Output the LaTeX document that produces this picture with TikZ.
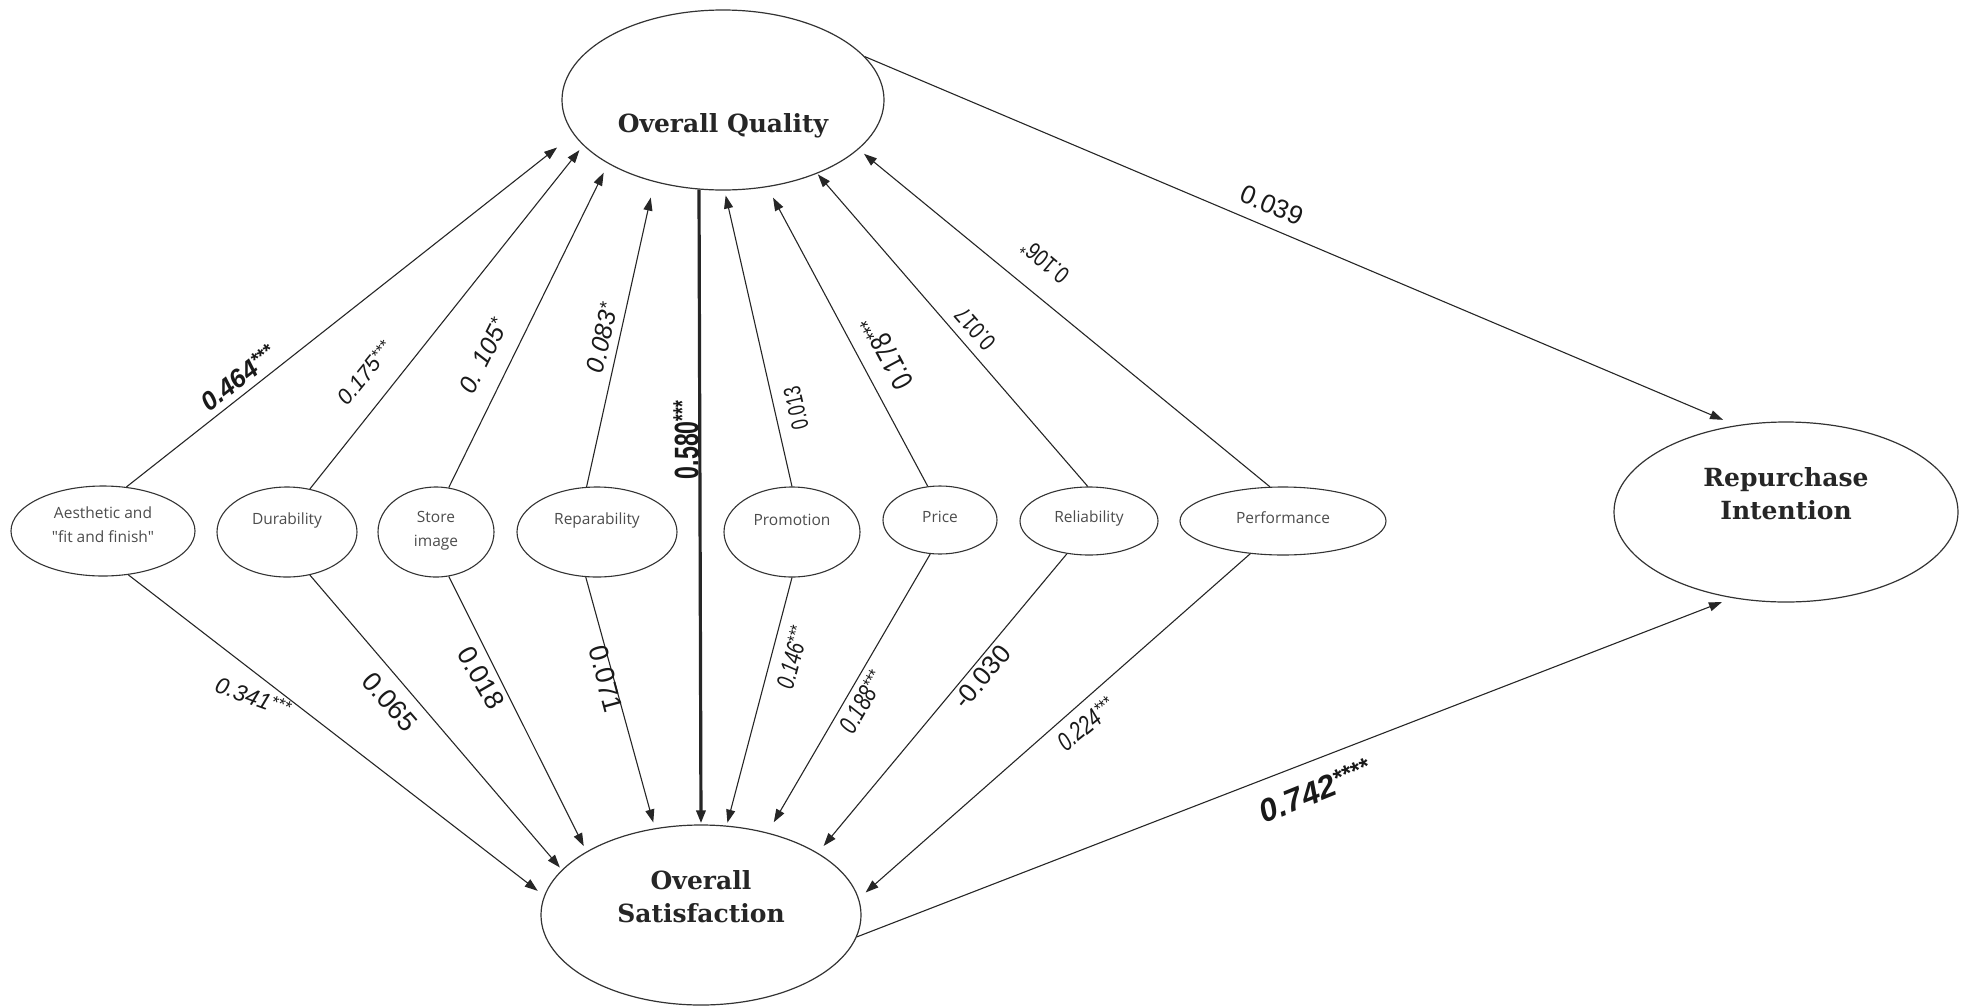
\documentclass[tikz,border=0pt]{standalone}
\usepackage{fontspec}
\setmainfont{DejaVu Serif}
\newfontfamily\coeffont{Liberation Sans}
\newfontfamily\facfont{Open Sans}
\usetikzlibrary{arrows.meta,shapes.geometric}

% significance stars, set small and raised
\newcommand\sig[1]{\raisebox{0.22em}{\scalebox{0.75}{#1}}}
% narrow setting for the condensed coefficients
\newcommand\narrow[2][0.75]{\scalebox{#1}[1]{#2}}

\begin{document}
\begin{tikzpicture}[x=1pt,y=-1pt,
  construct/.style={ellipse, draw=black!80, line width=1.2pt, inner sep=0pt},
  factor/.style={ellipse, draw=black!80, line width=1.1pt, inner sep=0pt},
  bigtext/.style={font=\fontsize{25}{33}\selectfont\bfseries, text=black!85, align=center, inner sep=0pt},
  factext/.style={font=\facfont\fontsize{15.5}{24}\selectfont, text=black!70, align=center, inner sep=0pt},
  link/.style={draw=black!85, line width=1.1pt, -{Triangle[length=13pt,width=9pt]}},
  coef/.style={font=\coeffont\fontsize{26}{30}\selectfont, text=black!90, inner sep=0pt},
]
\useasboundingbox (0,0) rectangle (1966,1007);

% ---- endogenous constructs
\node[construct, minimum width=322pt, minimum height=180pt] (oq) at (723,100) {};
\node[bigtext] (oqtext) at ([yshift=-26pt]oq.center) {Overall Quality};

\node[construct, minimum width=320pt, minimum height=180pt] (os) at (701,915) {};
\node[bigtext] (ostext) at ([yshift=18pt]os.center) {Overall\\Satisfaction};

\node[construct, minimum width=344pt, minimum height=180pt] (ri) at (1786,512) {};
\node[bigtext] (ritext) at ([yshift=18pt]ri.center) {Repurchase\\Intention};

% ---- quality attributes
\node[factor, minimum width=184pt, minimum height=90pt] (aes) at (103,531) {};
\node[factext] (aestext) at ([yshift=6pt]aes.center) {Aesthetic and\\\textquotedbl fit and finish\textquotedbl};

\node[factor, minimum width=140pt, minimum height=90pt] (dur) at (287,532) {};
\node[factext] (durtext) at ([yshift=12pt]dur.center) {Durability};

\node[factor, minimum width=116pt, minimum height=90pt] (sto) at (436,532) {};
\node[factext] (stotext) at ([yshift=1pt]sto.center) {Store\\image};

\node[factor, minimum width=160pt, minimum height=90pt] (rep) at (597,532) {};
\node[factext] (reptext) at ([yshift=12pt]rep.center) {Reparability};

\node[factor, minimum width=136pt, minimum height=90pt] (pro) at (792,532) {};
\node[factext] (protext) at ([yshift=12pt]pro.center) {Promotion};

\node[factor, minimum width=114pt, minimum height=68pt] (pri) at (940,520) {};
\node[factext] (pritext) at ([yshift=3pt]pri.center) {Price};

\node[factor, minimum width=138pt, minimum height=68pt] (rel) at (1089,521) {};
\node[factext] (reltext) at ([yshift=3pt]rel.center) {Reliability};

\node[factor, minimum width=206pt, minimum height=68pt] (per) at (1283,521) {};
\node[factext] (pertext) at ([yshift=3pt]per.center) {Performance};

% ---- paths to overall quality
\draw[link, shorten >=21pt] (aes.62)   -- (oq.193.4);
\draw[link, shorten >=6pt]  (dur.62.4) -- (oq.198.9);
\draw[link, shorten >=10pt] (sto.74)   -- (oq.209.4);
\draw[link, shorten >=16pt] (rep.103.4) -- (oq.230.4);
\draw[link, shorten >=5pt]  (pro.90)   -- (oq.271.3);
\draw[link, shorten >=12pt] (pri.110)  -- (oq.297.1);
\draw[link, shorten >=1pt]  (rel.92)   -- (oq.322.5);
\draw[link, shorten >=7pt]  (per.111)  -- (oq.340.8);

% ---- paths to overall satisfaction
\draw[link, shorten >=8pt]  (aes.-60)  -- (os.173.8);
\draw[link, shorten >=3pt]  (dur.-62)  -- (os.162.2);
\draw[link, shorten >=6pt]  (sto.-74)  -- (os.151.5);
\draw[link, shorten >=6pt]  (rep.-104) -- (os.118.3);
\draw[link, line width=3.2pt, shorten >=1pt] (oq.255.5) -- (os.90.6);
\draw[link, shorten >=3pt]  (pro.-90)  -- (os.74.2);
\draw[link, shorten >=12pt] (pri.-106) -- (os.51.4);
\draw[link, shorten >=9pt]  (rel.-124) -- (os.28.6);
\draw[link, shorten >=9pt]  (per.-135) -- (os.6.2);

% ---- paths to repurchase intention
\draw[link, shorten >=14pt] (oq.17.1) -- (ri.120.9);
\draw[link, shorten >=11pt] (os.-8.1) -- (ri.238.7);

% ---- coefficients, upper paths
\node[coef, rotate=38]  (c1) at (238,378) {\bfseries\itshape 0.464\sig{***}};
\node[coef, rotate=51, font=\coeffont\fontsize{22}{26}\selectfont] (c2) at (365,373) {\itshape 0.175\sig{***}};
\node[coef, rotate=63.5, font=\coeffont\fontsize{25}{28}\selectfont] (c3) at (483,356) {\itshape 0. 105\sig{*}};
\node[coef, rotate=77, font=\coeffont\fontsize{25}{28}\selectfont] (c4) at (602,338) {\itshape 0.083\sig{*}};
\node[coef, rotate=90, font=\coeffont\fontsize{34}{38}\selectfont] (c5) at (686,440) {\narrow[0.68]{\bfseries 0.580\sig{***}}};
\node[coef, rotate=103, font=\coeffont\fontsize{24}{28}\selectfont] (c6) at (796,408) {\narrow[0.72]{0.013}};
\node[coef, rotate=118, font=\coeffont\fontsize{30}{34}\selectfont] (c7) at (887,353) {\narrow[0.77]{0.178\sig{***}}};
\node[coef, rotate=131, font=\coeffont\fontsize{24}{28}\selectfont] (c8) at (975,329) {\narrow[0.8]{0.017}};
\node[coef, rotate=140, font=\coeffont\fontsize{24}{28}\selectfont] (c9) at (1045,262) {\narrow[0.8]{0.106\sig{*}}};
\node[coef, rotate=-23] (c10) at (1272,205) {0.039};

% ---- coefficients, lower paths
\node[coef, rotate=-20, font=\coeffont\fontsize{23}{27}\selectfont] (c11) at (253,697) {\itshape 0.341\sig{***}};
\node[coef, rotate=-49, font=\coeffont\fontsize{27}{30}\selectfont] (c12) at (390,702) {0.065};
\node[coef, rotate=-60, font=\coeffont\fontsize{27}{30}\selectfont] (c13) at (481,678) {0.018};
\node[coef, rotate=-75, font=\coeffont\fontsize{27}{30}\selectfont] (c14) at (606,679) {0.071};
\node[coef, rotate=75, font=\coeffont\fontsize{25}{28}\selectfont] (c15) at (792,658) {\narrow{\itshape 0.146\sig{***}}};
\node[coef, rotate=60, font=\coeffont\fontsize{26}{30}\selectfont] (c16) at (862,702) {\narrow{\itshape 0.188\sig{***}}};
\node[coef, rotate=50] (c17) at (982,677) {-0.030};
\node[coef, rotate=39, font=\coeffont\fontsize{26}{30}\selectfont] (c18) at (1086,724) {\narrow{\itshape 0.224\sig{***}}};
\node[coef, rotate=22, font=\coeffont\fontsize{32}{36}\selectfont] (c19) at (1315,791) {\bfseries\itshape 0.742\sig{****}};
\end{tikzpicture}
\end{document}
